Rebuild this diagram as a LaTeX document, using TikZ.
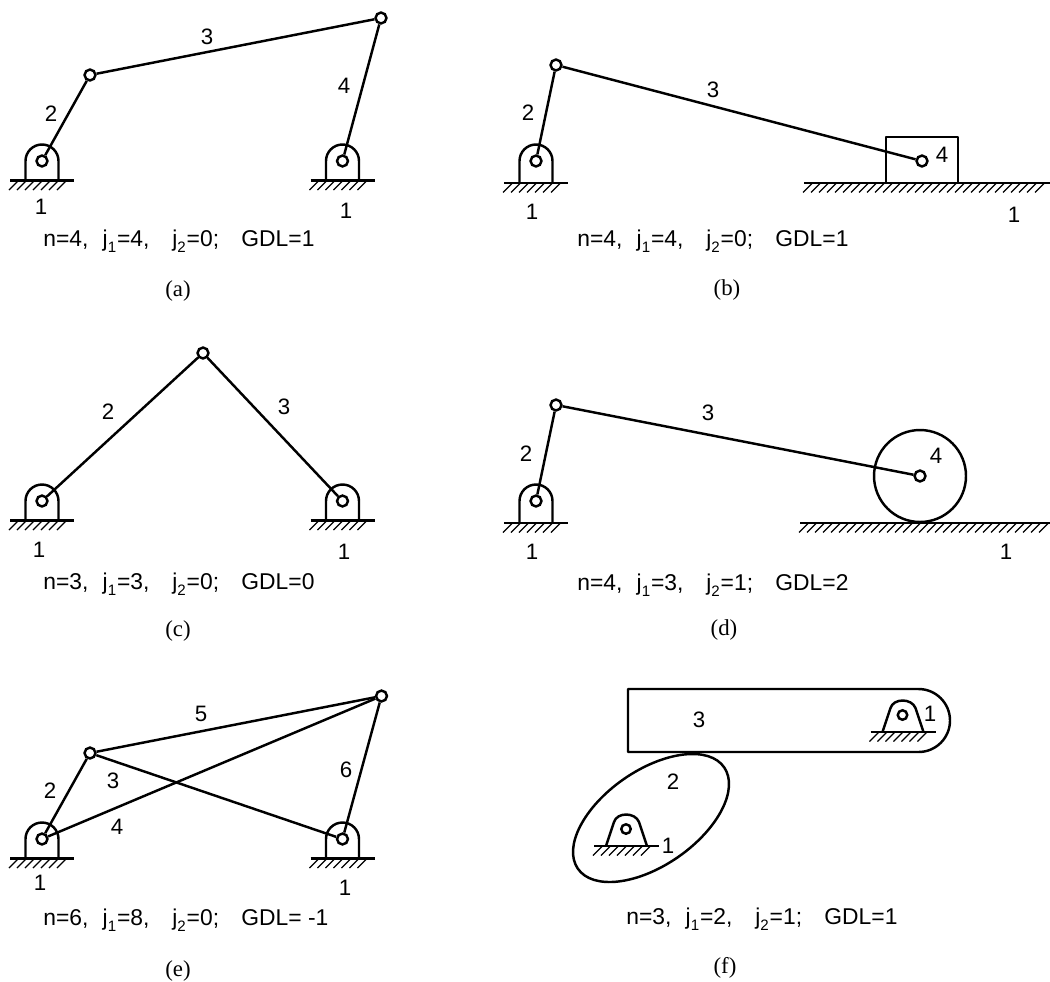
\documentclass[tikz,border=0pt]{standalone}
\usepackage{fontspec}
\setmainfont{Liberation Sans}
\newfontfamily\capfont{Liberation Serif}
\newcommand{\subj}[1]{\raisebox{-0.27em}{\fontsize{8.6}{10}\selectfont #1}\kern0.5pt}
\newcommand{\gapa}{\ \ \kern0.9pt}
\newcommand{\gapb}{\ \ \ \kern2.2pt}
\newcommand{\gapc}{\ \ \ \kern1.9pt}
\tikzset{
  x=0.02cm,y=-0.02cm,
  lw/.style={line width=1.4pt,line join=round},
  link/.style={lw},
  joint/.style={circle,draw,fill=white,line width=1.4pt,minimum size=6.2pt,inner sep=0pt},
  lab/.style={font=\fontsize{12.7}{14}\selectfont,inner sep=0pt},
  eqn/.style={font=\fontsize{13}{15}\selectfont,inner sep=0pt,anchor=base west},
  captext/.style={font=\capfont\fontsize{13}{15}\selectfont,inner sep=0pt},
  hatch/.style={line width=0.75pt},
  pics/ground/.style={code={%
    \draw[lw] (0,0) -- (#1,0);
    \foreach \i in {8,16,...,#1}{\draw[hatch] (\i,0.5) -- (\i-9,9.5);}
  }},
  pics/arch/.style={code={%
    \draw[lw] (-16.5,#1) -- (-16.5,0) arc[start angle=180,end angle=360,radius=16.5] -- (16.5,#1);
    \draw[lw] (-32,#1) -- (32,#1);
    \foreach \i in {-24,-16,...,28}{\draw[hatch] (\i,#1+0.5) -- (\i-9,#1+9.5);}
  }},
  pics/mount/.style={code={%
    \draw[lw] (-20,17) -- (-12,-7) .. controls (-9,-17) and (9,-17) .. (13,-7) -- (21,17);
    \draw[lw] (-32,17) -- (33,17);
    \foreach \i in {-24,-16,...,28}{\draw[hatch] (\i,17.5) -- (\i-9,26.5);}
  }}
}
\begin{document}
\begin{tikzpicture}
\useasboundingbox (0,0) rectangle (1050,981);
% (a)
\pic at (42,161) {arch=19.5};
\pic at (342.5,161) {arch=19.5};
\node[joint] (aA) at (42,161) {};
\node[joint] (aB) at (90,75) {};
\node[joint] (aC) at (381,18) {};
\node[joint] (aD) at (342.5,161) {};
\draw[link] (aA) -- (aB);
\draw[link] (aB) -- (aC);
\draw[link] (aC) -- (aD);
\node[lab] (a3) at (207,37) {3};
\node[lab] (a2) at (51,114) {2};
\node[lab] (a4) at (344,86) {4};
\node[lab] (a1) at (41,207) {1};
\node[lab] (a1b) at (346,211) {1};
\node[eqn] (aeq) at (43,246) {n=4,\gapa j\subj{1}=4,\gapb j\subj{2}=0;\gapc GDL=1};
\node[captext] (acap) at (178,291) {(a)};
% (b)
\pic at (536,161) {arch=22};
\pic at (804,183) {ground=246};
\draw[lw] (886,183) -- (886,137) -- (958,137) -- (958,183);
\node[joint] (bA) at (536,161) {};
\node[joint] (bB) at (556,65) {};
\node[joint] (bC) at (922,161) {};
\draw[link] (bA) -- (bB);
\draw[link] (bB) -- (bC);
\node[lab] (b3) at (713,90) {3};
\node[lab] (b2) at (528,113) {2};
\node[lab] (b4) at (942,155) {4};
\node[lab] (b1) at (532,212) {1};
\node[lab] (b1b) at (1014,215) {1};
\node[eqn] (beq) at (577,246) {n=4,\gapa j\subj{1}=4,\gapb j\subj{2}=0;\gapc GDL=1};
\node[captext] (bcap) at (727,290) {(b)};
% (c)
\pic at (42,501) {arch=19.5};
\pic at (342.5,501) {arch=19.5};
\node[joint] (cA) at (42,501) {};
\node[joint] (cB) at (203,353) {};
\node[joint] (cC) at (342.5,501) {};
\draw[link] (cA) -- (cB);
\draw[link] (cB) -- (cC);
\node[lab] (c2) at (108,412) {2};
\node[lab] (c3) at (284,407) {3};
\node[lab] (c1) at (39,550) {1};
\node[lab] (c1b) at (344,552) {1};
\node[eqn] (ceq) at (43,589) {n=3,\gapa j\subj{1}=3,\gapb j\subj{2}=0;\gapc GDL=0};
\node[captext] (ccap) at (178,631) {(c)};
% (d)
\pic at (536,501) {arch=22};
\pic at (800,523) {ground=250};
\node[circle,draw,lw,inner sep=0pt,minimum size=1.84cm] (dW) at (920,476) {};
\node[joint] (dA) at (536,501) {};
\node[joint] (dB) at (556,405) {};
\node[joint] (dC) at (920,476) {};
\draw[link] (dA) -- (dB);
\draw[link] (dB) -- (dC);
\node[lab] (d3) at (708,413) {3};
\node[lab] (d2) at (526,454) {2};
\node[lab] (d4) at (936,456) {4};
\node[lab] (d1) at (532,552) {1};
\node[lab] (d1b) at (1006,552) {1};
\node[eqn] (deq) at (577,590) {n=4,\gapa j\subj{1}=3,\gapb j\subj{2}=1;\gapc GDL=2};
\node[captext] (dcap) at (724,630) {(d)};
% (e)
\pic at (42,839) {arch=19.5};
\pic at (342.5,839) {arch=19.5};
\node[joint] (eA) at (42,839) {};
\node[joint] (eB) at (90,753) {};
\node[joint] (eC) at (381.5,696) {};
\node[joint] (eD) at (342.5,839) {};
\draw[link] (eA) -- (eB);
\draw[link] (eB) -- (eC);
\draw[link] (eA) -- (eC);
\draw[link] (eB) -- (eD);
\draw[link] (eD) -- (eC);
\node[lab] (e5) at (201,714) {5};
\node[lab] (e2) at (50,791) {2};
\node[lab] (e3) at (113,781) {3};
\node[lab] (e4) at (117,827) {4};
\node[lab] (e6) at (346,770) {6};
\node[lab] (e1) at (40,883) {1};
\node[lab] (e1b) at (345,888) {1};
\node[eqn] (eeq) at (43,925) {n=6,\gapa j\subj{1}=8,\gapb j\subj{2}=0;\gapc GDL= -1};
\node[captext] (ecap) at (178,971) {(e)};
% (f)
\draw[lw] (918.5,689) -- (628,689) -- (628,752) -- (918.5,752) arc[start angle=90,end angle=-90,radius=31.5];
\draw[lw] (651,818) ellipse[x radius=89,y radius=47.5,rotate=34.75];
\pic at (902.5,715) {mount};
\pic at (626,829) {mount};
\node[joint,minimum size=5.4pt] (fA) at (902.5,715) {};
\node[joint,minimum size=5.4pt] (fB) at (626,829) {};
\node[lab] (f3) at (699,720) {3};
\node[lab] (f2) at (673,782) {2};
\node[lab] (f1) at (930,714) {1};
\node[lab] (f1b) at (668,846) {1};
\node[eqn] (feq) at (626,924) {n=3,\gapa j\subj{1}=2,\gapb j\subj{2}=1;\gapc GDL=1};
\node[captext] (fcap) at (725,968) {(f)};
\end{tikzpicture}
\end{document}
